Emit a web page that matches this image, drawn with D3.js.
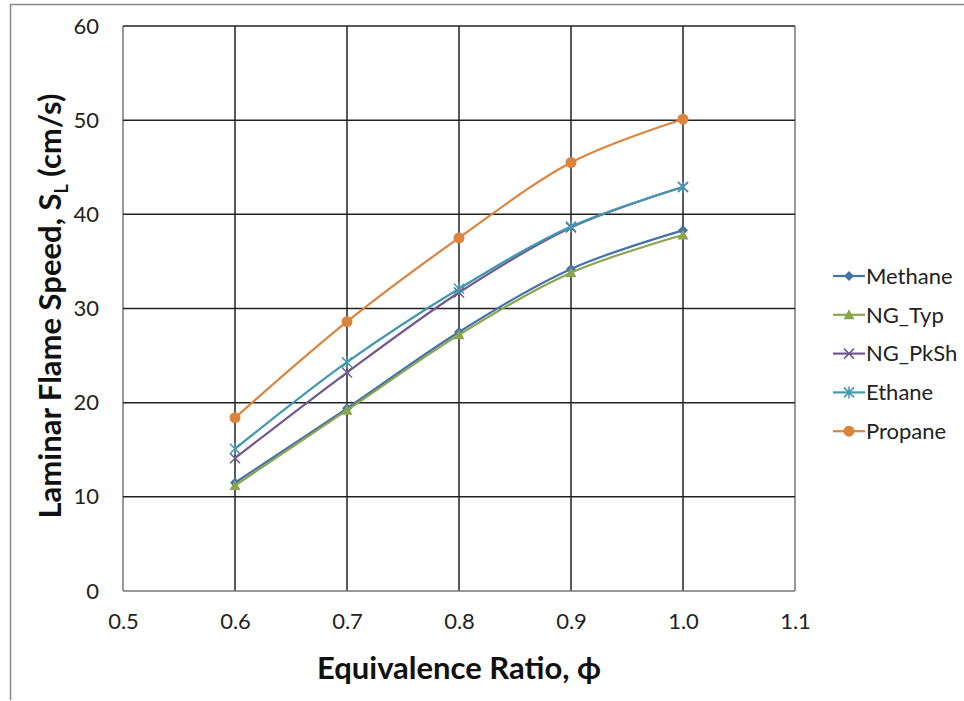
<!DOCTYPE html>
<html>
<head>
<meta charset="utf-8">
<script src="https://cdn.jsdelivr.net/npm/d3@7"></script>
<style>
  body { margin: 0; background: #fff; }
  svg { font-family: Lato, "Open Sans", sans-serif; }
</style>
</head>
<body>
<svg id="chart" width="964" height="701"></svg>
<script>
// data
const phi = [0.6, 0.7, 0.8, 0.9, 1.0];
const seriesNames = ['Methane', 'NG_Typ', 'NG_PkSh', 'Ethane', 'Propane'];
const methane = [11.5, 19.4, 27.5, 34.2, 38.3];
const ngTyp = [11.2, 19.2, 27.2, 33.8, 37.8];
const ngPkSh = [14.1, 23.2, 31.7, 38.6, 42.9];
const ethane = [15.1, 24.3, 32.1, 38.7, 42.9];
const propane = [18.4, 28.6, 37.5, 45.5, 50.1];
const xTicks = [0.5, 0.6, 0.7, 0.8, 0.9, 1.0, 1.1];
const yTicks = [0, 10, 20, 30, 40, 50, 60];

const values = [methane, ngTyp, ngPkSh, ethane, propane];
const colors = ['#4572A7', '#89A54E', '#71588F', '#4198AF', '#DB843D'];
const markers = ['diamond', 'triangle', 'cross', 'star', 'circle'];

const svg = d3.select('#chart');
const margin = { left: 123, right: 795, top: 26, bottom: 591 };

// frame around the chart
svg.append('path')
    .attr('d', 'M10.5,700 V4.5 H964')
    .attr('fill', 'none')
    .attr('stroke', '#888')
    .attr('stroke-width', 1.5);

const x = d3.scaleLinear().domain([0.5, 1.1]).range([margin.left, margin.right]);
const y = d3.scaleLinear().domain([0, 60]).range([margin.bottom, margin.top]);

// grid
const grid = svg.append('g');
xTicks.forEach(t => {
    grid.append('line')
        .attr('x1', x(t)).attr('x2', x(t))
        .attr('y1', y(0)).attr('y2', y(60))
        .attr('stroke', t === 0.5 || t === 1.1 ? '#777' : '#222')
        .attr('stroke-width', 1.5);
});
yTicks.forEach(t => {
    grid.append('line')
        .attr('x1', x(0.5)).attr('x2', x(1.1))
        .attr('y1', y(t)).attr('y2', y(t))
        .attr('stroke', t === 0 ? '#777' : '#222')
        .attr('stroke-width', 1.5);
});

// axes (labels only)
svg.append('g')
    .attr('transform', `translate(0,${margin.bottom})`)
    .call(d3.axisBottom(x).tickValues(xTicks).tickFormat(d3.format('.1f')).tickSize(0).tickPadding(22))
    .call(g => g.select('.domain').remove())
    .selectAll('text')
    .style('font-size', '22px')
    .style('font-family', 'Lato, "Open Sans", sans-serif')
    .attr('fill', '#222');

svg.append('g')
    .attr('transform', `translate(${margin.left},0)`)
    .call(d3.axisLeft(y).tickValues(yTicks).tickSize(0).tickPadding(24))
    .call(g => g.select('.domain').remove())
    .selectAll('text')
    .style('font-size', '22px')
    .style('font-family', 'Lato, "Open Sans", sans-serif')
    .attr('fill', '#222');

// axis titles
svg.append('text')
    .attr('x', 459)
    .attr('y', 679)
    .attr('text-anchor', 'middle')
    .style('font-size', '31px')
    .style('font-weight', 'bold')
    .attr('fill', '#111')
    .text('Equivalence Ratio, \u03D5');

const yTitle = svg.append('text')
    .attr('transform', 'translate(61,306) rotate(-90)')
    .attr('text-anchor', 'middle')
    .style('font-size', '31px')
    .style('font-weight', 'bold')
    .attr('fill', '#111');
yTitle.append('tspan').text('Laminar Flame Speed, S');
yTitle.append('tspan').attr('dy', 7).style('font-size', '18px').text('L');
yTitle.append('tspan').attr('dy', -7).text(' (cm/s)');

// markers
function drawMarker(g, type, cx, cy, color) {
    if (type === 'diamond') {
        g.append('path').attr('d', `M${cx},${cy - 5}L${cx + 5},${cy}L${cx},${cy + 5}L${cx - 5},${cy}Z`)
            .attr('fill', color);
    } else if (type === 'triangle') {
        g.append('path').attr('d', `M${cx},${cy - 5.5}L${cx + 5.5},${cy + 4.5}L${cx - 5.5},${cy + 4.5}Z`)
            .attr('fill', color);
    } else if (type === 'cross') {
        g.append('path').attr('d', `M${cx - 5},${cy - 5}L${cx + 5},${cy + 5}M${cx - 5},${cy + 5}L${cx + 5},${cy - 5}`)
            .attr('stroke', color).attr('stroke-width', 1.5);
    } else if (type === 'star') {
        g.append('path').attr('d', `M${cx - 5},${cy - 5}L${cx + 5},${cy + 5}M${cx - 5},${cy + 5}L${cx + 5},${cy - 5}M${cx},${cy - 6}L${cx},${cy + 6}`)
            .attr('stroke', color).attr('stroke-width', 1.5);
    } else {
        g.append('circle').attr('cx', cx).attr('cy', cy).attr('r', 5.5).attr('fill', color);
    }
}

const line = d3.line()
    .x((d, i) => x(phi[i]))
    .y(d => y(d))
    .curve(d3.curveCardinal.tension(0));

seriesNames.forEach((name, s) => {
    const g = svg.append('g').attr('class', 'series');
    g.append('path')
        .datum(values[s])
        .attr('d', line)
        .attr('fill', 'none')
        .attr('stroke', colors[s])
        .attr('stroke-width', 2.2);
    values[s].forEach((v, i) => drawMarker(g, markers[s], x(phi[i]), y(v), colors[s]));
});

// legend
const legend = svg.append('g');
seriesNames.forEach((name, s) => {
    const ly = 276 + s * 38.8;
    legend.append('line')
        .attr('x1', 833).attr('x2', 865)
        .attr('y1', ly).attr('y2', ly)
        .attr('stroke', colors[s]).attr('stroke-width', 2.2);
    drawMarker(legend, markers[s], 849, ly, colors[s]);
    legend.append('text')
        .attr('x', 866).attr('y', ly)
        .attr('dy', '0.35em')
        .style('font-size', '22px')
        .attr('fill', '#222')
        .text(name);
});
</script>
</body>
</html>
